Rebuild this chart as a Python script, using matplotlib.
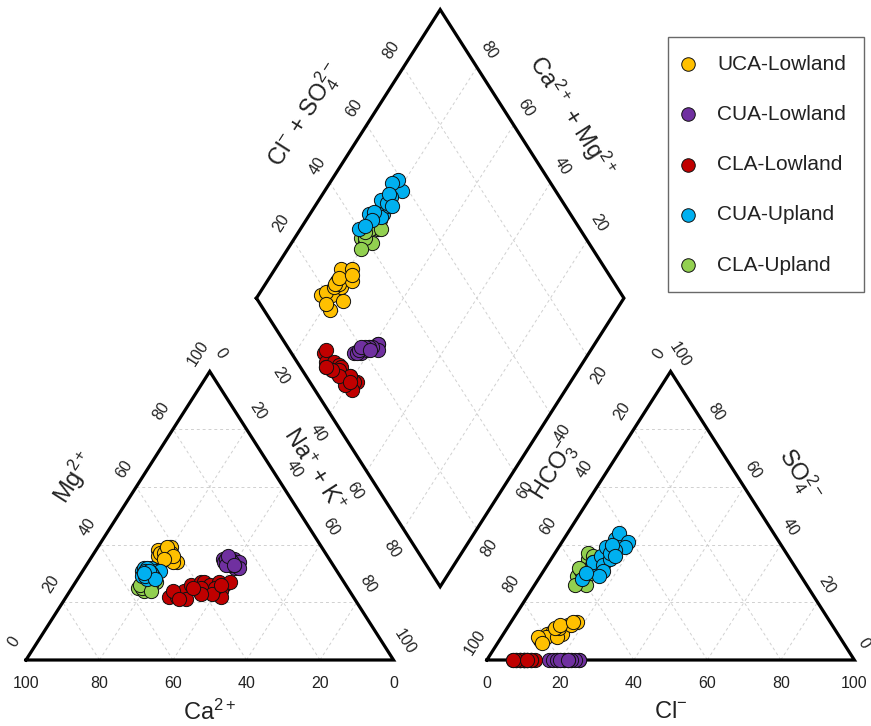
import matplotlib.pyplot as plt
import numpy as np

plt.rcParams['font.family'] = ['Liberation Sans', 'DejaVu Sans']
plt.rcParams['mathtext.fontset'] = 'custom'
plt.rcParams['mathtext.rm'] = 'Liberation Sans'
plt.rcParams['mathtext.it'] = 'Liberation Sans'

groups = ['UCA-Lowland', 'CUA-Lowland', 'CLA-Lowland', 'CUA-Upland', 'CLA-Upland']
colors = ['#FFC000', '#7030A0', '#C00000', '#00B0F0', '#92D050']
zorders = [6, 5, 4, 8, 7]

# meq % per sample; Ca and HCO3 are what is left over
uca_low_mg = [38, 39, 34, 36, 36, 37, 35, 37, 38, 35, 36, 34, 37, 39, 36, 35]
uca_low_nak = [17, 20, 24, 19, 18, 21, 21, 18, 19, 22, 20, 23, 19, 19, 22, 20]
uca_low_cl = [11, 12, 13, 15, 16, 18, 16, 12, 15, 10, 14, 17, 13, 14, 17, 12]
uca_low_so4 = [7, 9, 10, 10, 12, 13, 9, 8, 8, 8, 11, 12, 11, 12, 13, 6]

cua_low_mg = [34, 33, 35, 32, 35, 35, 34, 33, 34, 32, 33, 35, 34, 33, 36, 33]
cua_low_nak = [38, 40, 39, 41, 38, 36, 41, 39, 37, 42, 40, 37, 39, 38, 37, 40]
cua_low_cl = [20, 23, 22, 25, 19, 17, 25, 21, 18, 24, 23, 19, 22, 21, 20, 22]
cua_low_so4 = [0] * 16

cla_low_mg = [22, 22, 24, 26, 27, 27, 26, 27, 26, 27, 24, 22, 25, 21, 24, 24, 25, 23,
              23, 25, 26, 21]
cla_low_nak = [28, 30, 31, 32, 34, 35, 37, 39, 41, 42, 41, 42, 39, 33, 28, 35, 35, 39,
               36, 33, 40, 31]
cla_low_cl = [9, 8, 7, 10, 11, 9, 10, 12, 11, 13, 12, 10, 9, 8, 10, 11, 10, 12,
              9, 8, 11, 7]
cla_low_so4 = [0] * 22

cua_up_mg = [31, 32, 32, 30, 31, 29, 28, 31, 30, 32, 29, 30, 31, 29, 30, 31, 28, 30]
cua_up_nak = [16, 16, 18, 20, 20, 17, 19, 21, 18, 17, 20, 19, 17, 18, 19, 18, 21, 17]
cua_up_cl = [12, 13, 12, 13, 15, 16, 14, 14, 18, 18, 13, 16, 16, 16, 15, 14, 17, 12]
cua_up_so4 = [28, 32, 34, 36, 33, 35, 42, 44, 41, 39, 39, 38, 31, 29, 37, 40, 36, 30]

cla_up_mg = [25, 25, 26, 27, 27, 26, 24, 26, 25, 27, 26, 24]
cla_up_nak = [18, 20, 21, 19, 22, 19, 20, 21, 19, 20, 18, 22]
cla_up_cl = [10, 12, 10, 9, 10, 14, 11, 12, 13, 11, 9, 12]
cla_up_so4 = [29, 27, 35, 37, 31, 26, 26, 33, 30, 36, 32, 34]

data = [
    (uca_low_mg, uca_low_nak, uca_low_cl, uca_low_so4),
    (cua_low_mg, cua_low_nak, cua_low_cl, cua_low_so4),
    (cla_low_mg, cla_low_nak, cla_low_cl, cla_low_so4),
    (cua_up_mg, cua_up_nak, cua_up_cl, cua_up_so4),
    (cla_up_mg, cla_up_nak, cla_up_cl, cla_up_so4),
]

GAP = 0.254
H = np.sqrt(3) / 2
PX = 0.72  # pixel -> points at 100 dpi


def cation_xy(mg, nak):
    mg = np.asarray(mg, float) / 100
    nak = np.asarray(nak, float) / 100
    return nak + mg / 2, mg * H


def anion_xy(cl, so4):
    cl = np.asarray(cl, float) / 100
    so4 = np.asarray(so4, float) / 100
    return 1 + GAP + cl + so4 / 2, so4 * H


def diamond_xy(nak, clso4):
    a = np.asarray(nak, float) / 100
    b = np.asarray(clso4, float) / 100
    return 0.5 + GAP / 2 + 0.5 * (a + b), H + GAP * H + H * (b - a)


fig = plt.figure(figsize=(8.71, 7.26), dpi=100)
ax = fig.add_axes([0, 0, 1, 1])
ax.set_xlim(-26 / 367.5, (871 - 26) / 367.5)
ax.set_ylim(-66 / 333.2, 660 / 333.2)
ax.axis('off')

grid_kw = dict(color='#d0d0d0', lw=0.7, ls=(0, (3, 3)), zorder=1)


def seg(p, q, **kw):
    ax.plot([p[0], q[0]], [p[1], q[1]], **kw)


for k in [20, 40, 60, 80]:
    # cation triangle
    seg(cation_xy(k, 0), cation_xy(k, 100 - k), **grid_kw)
    seg(cation_xy(0, k), cation_xy(100 - k, k), **grid_kw)
    seg(cation_xy(0, 100 - k), cation_xy(100 - k, 0), **grid_kw)
    # anion triangle
    seg(anion_xy(0, k), anion_xy(100 - k, k), **grid_kw)
    seg(anion_xy(k, 0), anion_xy(k, 100 - k), **grid_kw)
    seg(anion_xy(100 - k, 0), anion_xy(0, 100 - k), **grid_kw)
    # diamond
    seg(diamond_xy(k, 0), diamond_xy(k, 100), **grid_kw)
    seg(diamond_xy(0, k), diamond_xy(100, k), **grid_kw)

edge_kw = dict(color='black', lw=2.3, zorder=2, solid_joinstyle='miter')
tri = np.array([cation_xy(0, 0), cation_xy(0, 100), cation_xy(100, 0), cation_xy(0, 0)])
ax.plot(tri[:, 0], tri[:, 1], **edge_kw)
tri = np.array([anion_xy(0, 0), anion_xy(100, 0), anion_xy(0, 100), anion_xy(0, 0)])
ax.plot(tri[:, 0], tri[:, 1], **edge_kw)
dia = np.array([diamond_xy(0, 0), diamond_xy(0, 100), diamond_xy(100, 100),
                diamond_xy(100, 0), diamond_xy(0, 0)])
ax.plot(dia[:, 0], dia[:, 1], **edge_kw)

ROT = 57.5
tick_fs = 11.5


def label(txt, xy, off, rot=0, fs=tick_fs):
    ax.annotate(txt, xy=xy, xytext=(off[0] * PX, -off[1] * PX), textcoords='offset points',
                ha='center', va='center', rotation=rot, rotation_mode='anchor',
                fontsize=fs, color='#222222')


for v in range(0, 101, 20):
    s = str(v)
    label(s, cation_xy(0, 100 - v), (0, 23))              # Ca
    label(s, cation_xy(v, 0), (-12, -18), ROT)            # Mg
    label(s, cation_xy(100 - v, v), (11, -18), -ROT)      # Na + K
    label(s, anion_xy(v, 0), (0, 23))                     # Cl
    label(s, anion_xy(0, 100 - v), (-12, -18), ROT)       # HCO3
    label(s, anion_xy(100 - v, v), (9, -17), -ROT)        # SO4

for v in [20, 40, 60, 80]:
    s = str(v)
    label(s, diamond_xy(0, v), (-12, -17), ROT)
    label(s, diamond_xy(100 - v, 100), (12, -17), -ROT)
    label(s, diamond_xy(v, 0), (-12, 20), -ROT)
    label(s, diamond_xy(100, 100 - v), (12, 19), ROT)

title_fs = 17
label(r'Ca$^{2+}$', cation_xy(0, 50), (0, 52), 0, title_fs)
label(r'Mg$^{2+}$', cation_xy(50, 0), (-44, -38), ROT, title_fs)
label(r'Na$^{+}$ + K$^{+}$', cation_xy(50, 50), (12, -45), -ROT, title_fs)
label(r'Cl$^{-}$', anion_xy(50, 0), (0, 52), 0, title_fs)
label(r'HCO$_3^{-}$', anion_xy(0, 50), (-24, -44), ROT, title_fs)
label(r'SO$_4^{2-}$', anion_xy(50, 50), (37, -41), -ROT, title_fs)
label(r'Cl$^{-}$ + SO$_4^{2-}$', diamond_xy(0, 50), (-43, -39), ROT, title_fs)
label(r'Ca$^{2+}$ + Mg$^{2+}$', diamond_xy(50, 100), (40, -38), -ROT, title_fs)

handles = []
for name, col, z, (mg, nak, cl, so4) in zip(groups, colors, zorders, data):
    mg, nak, cl, so4 = (np.array(a, float) for a in (mg, nak, cl, so4))
    sc_kw = dict(s=105, c=col, edgecolors='#111111', linewidths=0.7, zorder=z)
    h = ax.scatter(*cation_xy(mg, nak), label=name, **sc_kw)
    ax.scatter(*anion_xy(cl, so4), **sc_kw)
    ax.scatter(*diamond_xy(nak, cl + so4), **sc_kw)
    handles.append(h)

leg = ax.legend(handles=handles, loc='upper left', bbox_to_anchor=(668 / 871, 1 - 37 / 726),
                bbox_transform=fig.transFigure, fontsize=15, frameon=True, fancybox=False,
                edgecolor='#444444', borderpad=0.85, handlelength=0.2, handletextpad=1.3,
                labelspacing=1.5, scatterpoints=1, borderaxespad=0, markerscale=0.95)
leg.get_frame().set_linewidth(1.0)
for t in leg.get_texts():
    t.set_color('#222222')

fig.savefig('out.png', dpi=100)
